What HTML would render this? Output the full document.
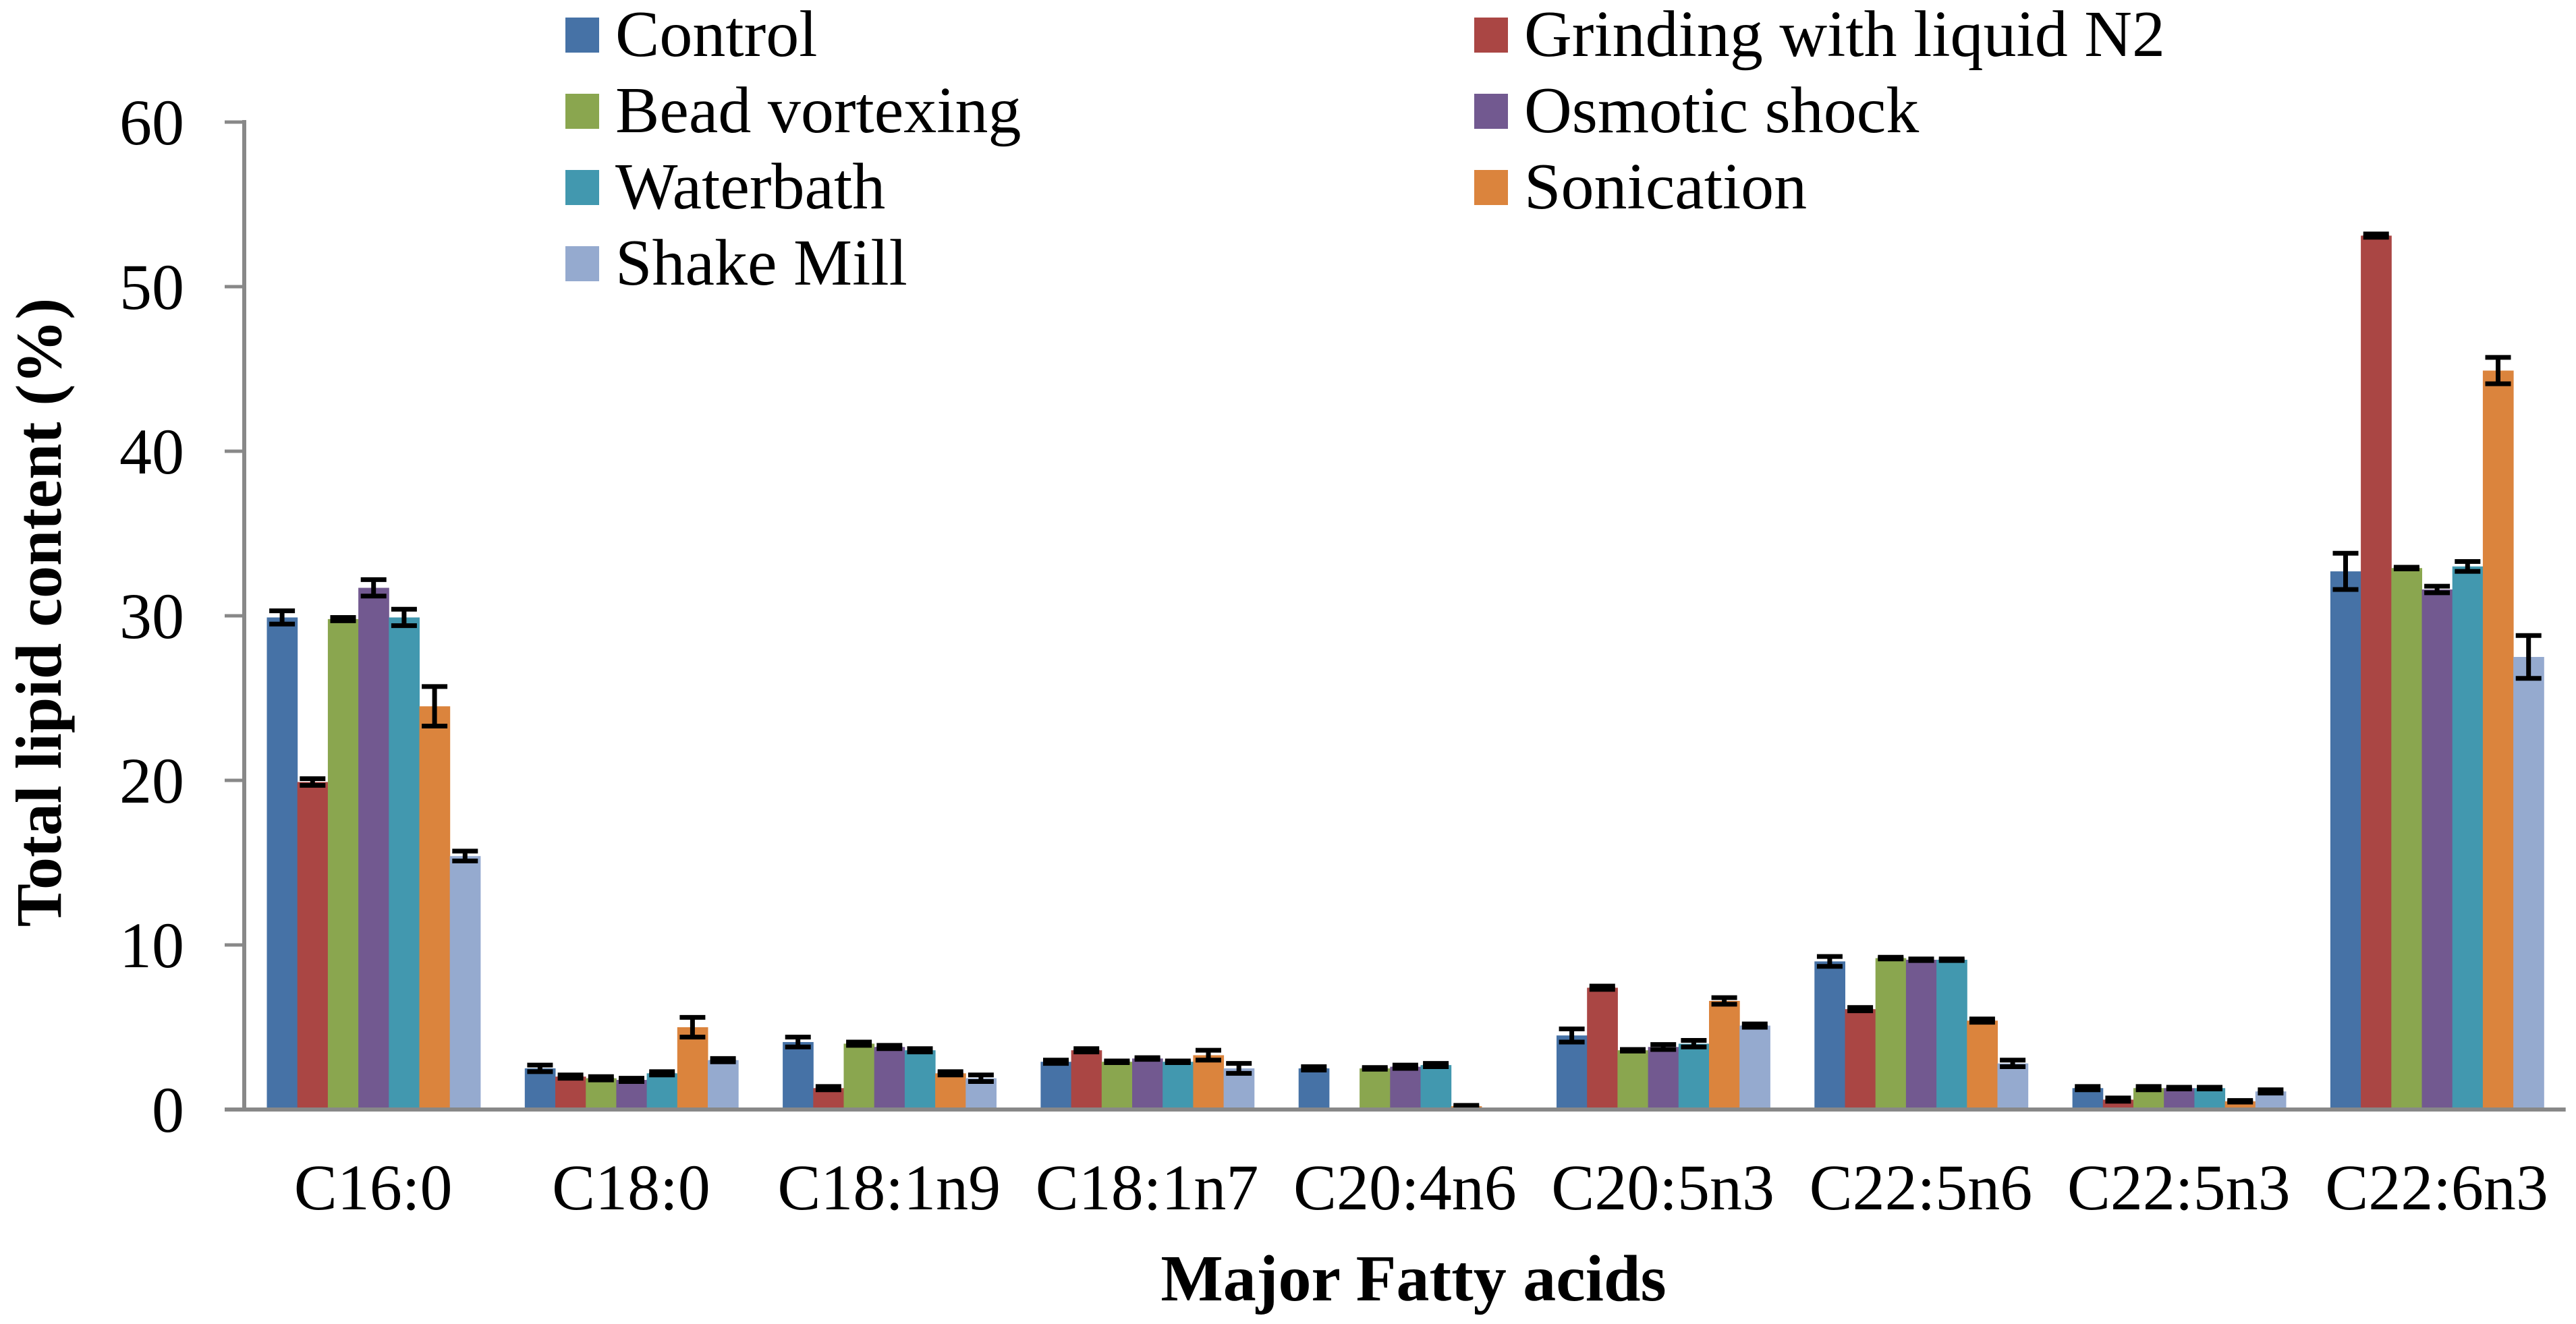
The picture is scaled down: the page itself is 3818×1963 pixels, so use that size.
<!DOCTYPE html>
<html><head><meta charset="utf-8"><style>
html,body{margin:0;padding:0;background:#fff;}
svg, svg text{font-family:"Liberation Serif","Times New Roman",serif !important;}
</style></head><body>
<svg id="chart" width="3818" height="1958" viewBox="0 0 3818 1958" xmlns="http://www.w3.org/2000/svg" font-family="Liberation Serif, serif"></svg>
<script>
const categories = ["C16:0","C18:0","C18:1n9","C18:1n7","C20:4n6","C20:5n3","C22:5n6","C22:5n3","C22:6n3"];
const seriesNames = ["Control","Grinding with liquid N2","Bead vortexing","Osmotic shock","Waterbath","Sonication","Shake Mill"];
const seriesColors = ["#4672a6","#aa4644","#8aa64f","#725990","#4298af","#db843d","#95aacf"];
const control   = [29.9, 2.5, 4.1, 2.9, 2.5, 4.5, 9.0, 1.3, 32.7];
const grinding  = [19.9, 2.0, 1.3, 3.6, 0.0, 7.4, 6.1, 0.6, 53.1];
const bead      = [29.8, 1.9, 4.0, 2.9, 2.5, 3.6, 9.2, 1.3, 32.9];
const osmotic   = [31.7, 1.8, 3.8, 3.1, 2.6, 3.8, 9.1, 1.3, 31.6];
const waterbath = [29.9, 2.2, 3.6, 2.9, 2.7, 4.0, 9.1, 1.3, 33.0];
const sonication= [24.5, 5.0, 2.2, 3.3, 0.2, 6.6, 5.4, 0.5, 44.9];
const shakeMill = [15.4, 3.0, 1.9, 2.5, 0.0, 5.1, 2.8, 1.1, 27.5];
const errControl   = [0.4, 0.2, 0.3, 0.1, 0.1, 0.4, 0.3, 0.1, 1.1];
const errGrinding  = [0.2, 0.1, 0.1, 0.1, 0.0, 0.1, 0.1, 0.1, 0.1];
const errBead      = [0.1, 0.1, 0.1, 0.05, 0.05, 0.05, 0.05, 0.1, 0.05];
const errOsmotic   = [0.5, 0.1, 0.1, 0.05, 0.1, 0.15, 0.05, 0.05, 0.2];
const errWaterbath = [0.5, 0.1, 0.1, 0.05, 0.1, 0.2, 0.05, 0.05, 0.3];
const errSonication= [1.2, 0.6, 0.1, 0.3, 0.05, 0.2, 0.1, 0.05, 0.8];
const errShakeMill = [0.3, 0.1, 0.2, 0.3, 0.0, 0.1, 0.2, 0.1, 1.3];
const yTicks = [0,10,20,30,40,50,60];

const series = [control,grinding,bead,osmotic,waterbath,sonication,shakeMill];
const errors = [errControl,errGrinding,errBead,errOsmotic,errWaterbath,errSonication,errShakeMill];
const NS="http://www.w3.org/2000/svg";
const svg=document.getElementById('chart');
const X0=362, Y0=1645, Ytop=181, catW=382.3, barW=45.2, padL=33.5;
const FONT="Liberation Serif, Times New Roman, serif";
function yScale(v){return Y0-(v/60)*(Y0-Ytop);}
function xBar(ci,si){return X0+ci*catW+padL+si*barW;}
function mk(tag,attrs){const e=document.createElementNS(NS,tag);for(const k in attrs)e.setAttribute(k,attrs[k]);if(tag==='text')e.setAttribute('font-family',FONT);svg.appendChild(e);return e;}

yTicks.forEach(t=>{
  const y=yScale(t);
  const tk=mk('line',{x1:333,x2:X0,y1:y,y2:y,stroke:'#888',"stroke-width":5});
  
  
  const tx=mk('text',{x:273,y:y+33,"text-anchor":"end","font-size":96});
  tx.textContent=t;
  
  
});
series.forEach((vals,si)=>{
  vals.forEach((v,ci)=>{
    const x=xBar(ci,si), y=yScale(v);
    const r=mk('rect',{x:x,y:y,width:barW+0.5,height:Y0-y,fill:seriesColors[si]});
    
    
    const e=errors[si][ci];
    if(v>0){
      const cx=x+barW/2, yh=yScale(v+e), yl=yScale(v-e);
      const g=document.createElementNS(NS,'g');
      
      
      svg.appendChild(g);
      [[cx,cx,yh,yl],[cx-19,cx+19,yh,yh],[cx-19,cx+19,yl,yl]].forEach(a=>{
        const l=document.createElementNS(NS,'line');
        l.setAttribute('x1',a[0]);l.setAttribute('x2',a[1]);l.setAttribute('y1',a[2]);l.setAttribute('y2',a[3]);
        l.setAttribute('stroke','#000');l.setAttribute('stroke-width',7);
        g.appendChild(l);
      });
    }
  });
});
const ya=mk('line',{x1:X0,x2:X0,y1:Ytop-3,y2:Y0+3,stroke:'#888',"stroke-width":6});


const xa=mk('line',{x1:333,x2:X0+9*catW,y1:Y0,y2:Y0,stroke:'#888',"stroke-width":6});


categories.forEach((c,ci)=>{
  const t=mk('text',{x:X0+ci*catW+catW/2,y:1793,"text-anchor":"middle","font-size":96});
  t.textContent=c;
  
  
});
const xt=mk('text',{x:2095,y:1928,"text-anchor":"middle","font-size":98,"font-weight":"bold"});
xt.textContent="Major Fatty acids";


const yt=mk('text',{x:0,y:0,"text-anchor":"middle","font-size":96,"font-weight":"bold",transform:"translate(90,908) rotate(-90)"});
yt.textContent="Total lipid content (%)";


seriesNames.forEach((n,i)=>{
  const col=i%2, row=Math.floor(i/2);
  const sx=col?2185:838, sy=26+row*113;
  const r=mk('rect',{x:sx,y:sy,width:50,height:52,fill:seriesColors[i]});
  
  
  const t=mk('text',{x:sx+74,y:sy+57,"font-size":98});
  t.textContent=n;
  
  
});
</script>
</body></html>
